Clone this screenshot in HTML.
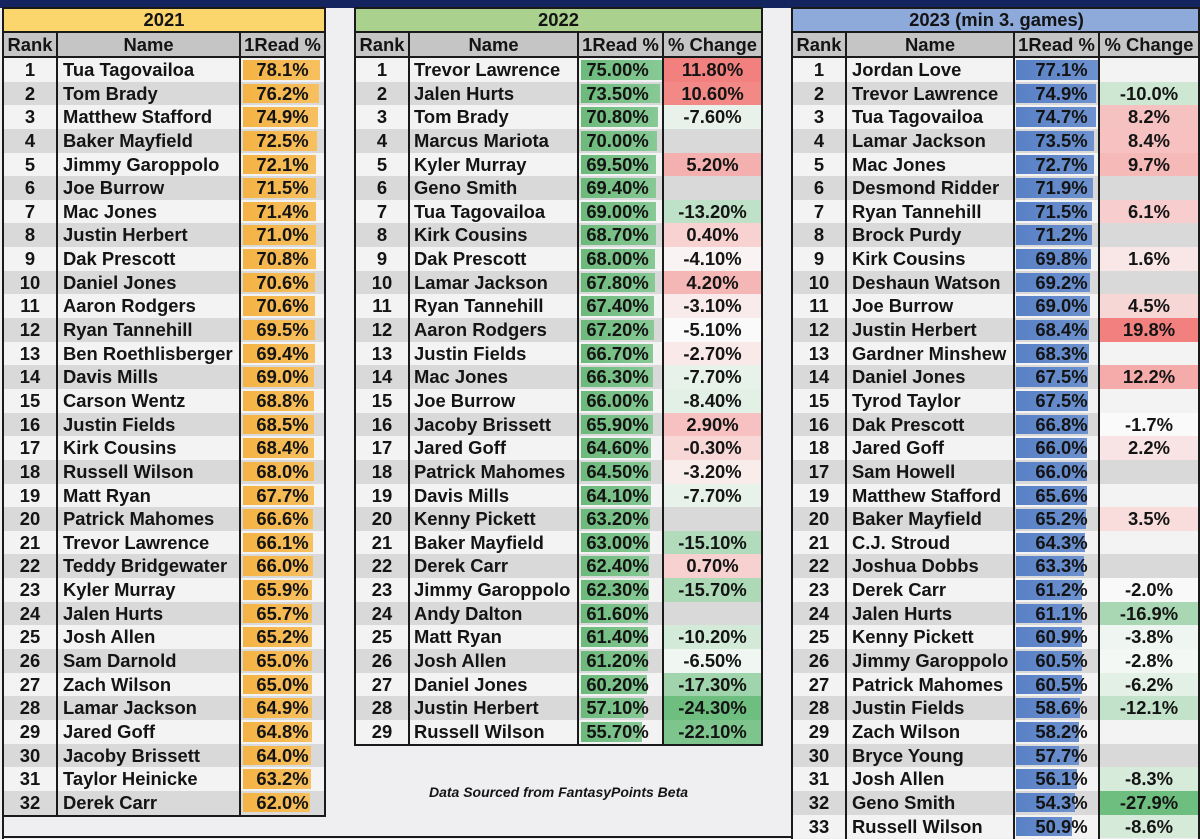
<!DOCTYPE html>
<html><head><meta charset="utf-8">
<style>
*{margin:0;padding:0;box-sizing:border-box}
body{width:1200px;height:839px;position:relative;overflow:hidden;background:#efeff1;font-family:"Liberation Sans",Arial,sans-serif;font-weight:bold;color:#141414}
.a{position:absolute}
.ln{position:absolute;background:#1a1a1a}
.t{position:absolute;top:58px}
.r{position:relative;height:23.65px;line-height:23.65px;font-size:18.4px;white-space:nowrap}
.r>i{position:absolute;top:0;font-style:normal}
.w{background:#f3f3f3}.g{background:#d9d9d9}
.k{left:0;width:52px;text-align:center}
.r>i.b{top:2px;height:19.6px}
.v,.c{text-align:center;height:23.65px}
#t1{left:4px;width:320px}
#t1 .n{left:59px}
#t1 .b{left:239px;background:linear-gradient(90deg,#f4b345,#f7c060)}
#t1 .v{left:237px;width:83px}
#t2{left:356px;width:405px}
#t2 .n{left:58px}
#t2 .b{left:225px;background:linear-gradient(90deg,#6cb97b,#88c996)}
#t2 .v{left:223px;width:77px}
#t2 .c{left:308px;width:97px}
#t3{left:793px;width:405px}
#t3 .n{left:59px}
#t3 .b{left:223px;background:linear-gradient(90deg,#5880c5,#6e92cf)}
#t3 .v{left:232px;width:73px}
#t3 .c{left:307px;width:98px}
.ti{position:absolute;top:9px;height:22px;line-height:22px;font-size:18.4px;text-align:center}
.hd{position:absolute;top:33px;height:23px;line-height:23px;font-size:18.4px;background:#c5c5c5}
.hd>i{position:absolute;top:0;font-style:normal;text-align:center}
</style></head><body>

<div class="a" style="left:0;top:0;width:1200px;height:8px;background:#14245f"></div>

<!-- titles -->
<div class="ti" style="left:4px;width:320px;background:#fad66c">2021</div>
<div class="ti" style="left:356px;width:405px;background:#abd18f">2022</div>
<div class="ti" style="left:793px;width:407px;background:#8eaadb">2023 (min 3. games)</div>

<!-- headers -->
<div class="hd" style="left:4px;width:320px"><i style="left:0;width:52px">Rank</i><i style="left:54px;width:181px">Name</i><i style="left:237px;width:83px">1Read %</i></div>
<div class="hd" style="left:356px;width:405px"><i style="left:0;width:52px">Rank</i><i style="left:54px;width:167px">Name</i><i style="left:223px;width:83px">1Read %</i><i style="left:308px;width:97px">% Change</i></div>
<div class="hd" style="left:793px;width:407px"><i style="left:0;width:52px">Rank</i><i style="left:54px;width:166px">Name</i><i style="left:222px;width:83px">1Read %</i><i style="left:307px;width:98px">% Change</i></div>

<!-- 2021 -->
<div class="t" id="t1">
<div class="r w"><i class="k">1</i><i class="n">Tua Tagovailoa</i><i class="b" style="width:77px"></i><i class="v">78.1%</i></div>
<div class="r g"><i class="k">2</i><i class="n">Tom Brady</i><i class="b" style="width:75.8px"></i><i class="v">76.2%</i></div>
<div class="r w"><i class="k">3</i><i class="n">Matthew Stafford</i><i class="b" style="width:75px"></i><i class="v">74.9%</i></div>
<div class="r g"><i class="k">4</i><i class="n">Baker Mayfield</i><i class="b" style="width:73.5px"></i><i class="v">72.5%</i></div>
<div class="r w"><i class="k">5</i><i class="n">Jimmy Garoppolo</i><i class="b" style="width:73.3px"></i><i class="v">72.1%</i></div>
<div class="r g"><i class="k">6</i><i class="n">Joe Burrow</i><i class="b" style="width:72.9px"></i><i class="v">71.5%</i></div>
<div class="r w"><i class="k">7</i><i class="n">Mac Jones</i><i class="b" style="width:72.8px"></i><i class="v">71.4%</i></div>
<div class="r g"><i class="k">8</i><i class="n">Justin Herbert</i><i class="b" style="width:72.6px"></i><i class="v">71.0%</i></div>
<div class="r w"><i class="k">9</i><i class="n">Dak Prescott</i><i class="b" style="width:72.5px"></i><i class="v">70.8%</i></div>
<div class="r g"><i class="k">10</i><i class="n">Daniel Jones</i><i class="b" style="width:72.3px"></i><i class="v">70.6%</i></div>
<div class="r w"><i class="k">11</i><i class="n">Aaron Rodgers</i><i class="b" style="width:72.3px"></i><i class="v">70.6%</i></div>
<div class="r g"><i class="k">12</i><i class="n">Ryan Tannehill</i><i class="b" style="width:71.7px"></i><i class="v">69.5%</i></div>
<div class="r w"><i class="k">13</i><i class="n">Ben Roethlisberger</i><i class="b" style="width:71.6px"></i><i class="v">69.4%</i></div>
<div class="r g"><i class="k">14</i><i class="n">Davis Mills</i><i class="b" style="width:71.3px"></i><i class="v">69.0%</i></div>
<div class="r w"><i class="k">15</i><i class="n">Carson Wentz</i><i class="b" style="width:71.2px"></i><i class="v">68.8%</i></div>
<div class="r g"><i class="k">16</i><i class="n">Justin Fields</i><i class="b" style="width:71px"></i><i class="v">68.5%</i></div>
<div class="r w"><i class="k">17</i><i class="n">Kirk Cousins</i><i class="b" style="width:71px"></i><i class="v">68.4%</i></div>
<div class="r g"><i class="k">18</i><i class="n">Russell Wilson</i><i class="b" style="width:70.7px"></i><i class="v">68.0%</i></div>
<div class="r w"><i class="k">19</i><i class="n">Matt Ryan</i><i class="b" style="width:70.5px"></i><i class="v">67.7%</i></div>
<div class="r g"><i class="k">20</i><i class="n">Patrick Mahomes</i><i class="b" style="width:69.9px"></i><i class="v">66.6%</i></div>
<div class="r w"><i class="k">21</i><i class="n">Trevor Lawrence</i><i class="b" style="width:69.5px"></i><i class="v">66.1%</i></div>
<div class="r g"><i class="k">22</i><i class="n">Teddy Bridgewater</i><i class="b" style="width:69.5px"></i><i class="v">66.0%</i></div>
<div class="r w"><i class="k">23</i><i class="n">Kyler Murray</i><i class="b" style="width:69.4px"></i><i class="v">65.9%</i></div>
<div class="r g"><i class="k">24</i><i class="n">Jalen Hurts</i><i class="b" style="width:69.3px"></i><i class="v">65.7%</i></div>
<div class="r w"><i class="k">25</i><i class="n">Josh Allen</i><i class="b" style="width:69px"></i><i class="v">65.2%</i></div>
<div class="r g"><i class="k">26</i><i class="n">Sam Darnold</i><i class="b" style="width:68.9px"></i><i class="v">65.0%</i></div>
<div class="r w"><i class="k">27</i><i class="n">Zach Wilson</i><i class="b" style="width:68.9px"></i><i class="v">65.0%</i></div>
<div class="r g"><i class="k">28</i><i class="n">Lamar Jackson</i><i class="b" style="width:68.8px"></i><i class="v">64.9%</i></div>
<div class="r w"><i class="k">29</i><i class="n">Jared Goff</i><i class="b" style="width:68.7px"></i><i class="v">64.8%</i></div>
<div class="r g"><i class="k">30</i><i class="n">Jacoby Brissett</i><i class="b" style="width:68.2px"></i><i class="v">64.0%</i></div>
<div class="r w"><i class="k">31</i><i class="n">Taylor Heinicke</i><i class="b" style="width:67.7px"></i><i class="v">63.2%</i></div>
<div class="r g"><i class="k">32</i><i class="n">Derek Carr</i><i class="b" style="width:67px"></i><i class="v">62.0%</i></div>
</div>

<!-- 2022 -->
<div class="t" id="t2">
<div class="r w"><i class="k">1</i><i class="n">Trevor Lawrence</i><i class="c" style="background:#f1807e">11.80%</i><i class="b" style="width:81px"></i><i class="v">75.00%</i></div>
<div class="r g"><i class="k">2</i><i class="n">Jalen Hurts</i><i class="c" style="background:#f28987">10.60%</i><i class="b" style="width:79.4px"></i><i class="v">73.50%</i></div>
<div class="r w"><i class="k">3</i><i class="n">Tom Brady</i><i class="c" style="background:#e8f2ea">-7.60%</i><i class="b" style="width:76.6px"></i><i class="v">70.80%</i></div>
<div class="r g"><i class="k">4</i><i class="n">Marcus Mariota</i><i class="b" style="width:75.8px"></i><i class="v">70.00%</i></div>
<div class="r w"><i class="k">5</i><i class="n">Kyler Murray</i><i class="c" style="background:#f4b0ae">5.20%</i><i class="b" style="width:75.3px"></i><i class="v">69.50%</i></div>
<div class="r g"><i class="k">6</i><i class="n">Geno Smith</i><i class="b" style="width:75.2px"></i><i class="v">69.40%</i></div>
<div class="r w"><i class="k">7</i><i class="n">Tua Tagovailoa</i><i class="c" style="background:#bfe1c7">-13.20%</i><i class="b" style="width:74.8px"></i><i class="v">69.00%</i></div>
<div class="r g"><i class="k">8</i><i class="n">Kirk Cousins</i><i class="c" style="background:#f7d2d1">0.40%</i><i class="b" style="width:74.5px"></i><i class="v">68.70%</i></div>
<div class="r w"><i class="k">9</i><i class="n">Dak Prescott</i><i class="c" style="background:#f9f3f3">-4.10%</i><i class="b" style="width:73.7px"></i><i class="v">68.00%</i></div>
<div class="r g"><i class="k">10</i><i class="n">Lamar Jackson</i><i class="c" style="background:#f5b7b6">4.20%</i><i class="b" style="width:73.5px"></i><i class="v">67.80%</i></div>
<div class="r w"><i class="k">11</i><i class="n">Ryan Tannehill</i><i class="c" style="background:#f9ebeb">-3.10%</i><i class="b" style="width:73.1px"></i><i class="v">67.40%</i></div>
<div class="r g"><i class="k">12</i><i class="n">Aaron Rodgers</i><i class="c" style="background:#fafafa">-5.10%</i><i class="b" style="width:72.9px"></i><i class="v">67.20%</i></div>
<div class="r w"><i class="k">13</i><i class="n">Justin Fields</i><i class="c" style="background:#f9e9e9">-2.70%</i><i class="b" style="width:72.4px"></i><i class="v">66.70%</i></div>
<div class="r g"><i class="k">14</i><i class="n">Mac Jones</i><i class="c" style="background:#e7f2ea">-7.70%</i><i class="b" style="width:72px"></i><i class="v">66.30%</i></div>
<div class="r w"><i class="k">15</i><i class="n">Joe Burrow</i><i class="c" style="background:#e2f0e5">-8.40%</i><i class="b" style="width:71.7px"></i><i class="v">66.00%</i></div>
<div class="r g"><i class="k">16</i><i class="n">Jacoby Brissett</i><i class="c" style="background:#f6c1c0">2.90%</i><i class="b" style="width:71.6px"></i><i class="v">65.90%</i></div>
<div class="r w"><i class="k">17</i><i class="n">Jared Goff</i><i class="c" style="background:#f7d8d7">-0.30%</i><i class="b" style="width:70.2px"></i><i class="v">64.60%</i></div>
<div class="r g"><i class="k">18</i><i class="n">Patrick Mahomes</i><i class="c" style="background:#f9edec">-3.20%</i><i class="b" style="width:70.1px"></i><i class="v">64.50%</i></div>
<div class="r w"><i class="k">19</i><i class="n">Davis Mills</i><i class="c" style="background:#e7f2ea">-7.70%</i><i class="b" style="width:69.7px"></i><i class="v">64.10%</i></div>
<div class="r g"><i class="k">20</i><i class="n">Kenny Pickett</i><i class="b" style="width:68.8px"></i><i class="v">63.20%</i></div>
<div class="r w"><i class="k">21</i><i class="n">Baker Mayfield</i><i class="c" style="background:#b1dbbb">-15.10%</i><i class="b" style="width:68.6px"></i><i class="v">63.00%</i></div>
<div class="r g"><i class="k">22</i><i class="n">Derek Carr</i><i class="c" style="background:#f7d1d0">0.70%</i><i class="b" style="width:67.9px"></i><i class="v">62.40%</i></div>
<div class="r w"><i class="k">23</i><i class="n">Jimmy Garoppolo</i><i class="c" style="background:#add9b7">-15.70%</i><i class="b" style="width:67.8px"></i><i class="v">62.30%</i></div>
<div class="r g"><i class="k">24</i><i class="n">Andy Dalton</i><i class="b" style="width:67.1px"></i><i class="v">61.60%</i></div>
<div class="r w"><i class="k">25</i><i class="n">Matt Ryan</i><i class="c" style="background:#d4ead9">-10.20%</i><i class="b" style="width:66.9px"></i><i class="v">61.40%</i></div>
<div class="r g"><i class="k">26</i><i class="n">Josh Allen</i><i class="c" style="background:#f0f6f1">-6.50%</i><i class="b" style="width:66.7px"></i><i class="v">61.20%</i></div>
<div class="r w"><i class="k">27</i><i class="n">Daniel Jones</i><i class="c" style="background:#a0d4ac">-17.30%</i><i class="b" style="width:65.7px"></i><i class="v">60.20%</i></div>
<div class="r g"><i class="k">28</i><i class="n">Justin Herbert</i><i class="c" style="background:#6ebe80">-24.30%</i><i class="b" style="width:62.5px"></i><i class="v">57.10%</i></div>
<div class="r w"><i class="k">29</i><i class="n">Russell Wilson</i><i class="c" style="background:#7dc58d">-22.10%</i><i class="b" style="width:61px"></i><i class="v">55.70%</i></div>
</div>

<!-- 2023 -->
<div class="t" id="t3">
<div class="r w"><i class="k">1</i><i class="n">Jordan Love</i><i class="b" style="width:81.9px"></i><i class="v">77.1%</i></div>
<div class="r g"><i class="k">2</i><i class="n">Trevor Lawrence</i><i class="c" style="background:#cde7d3">-10.0%</i><i class="b" style="width:79.8px"></i><i class="v">74.9%</i></div>
<div class="r w"><i class="k">3</i><i class="n">Tua Tagovailoa</i><i class="c" style="background:#f6c2c1">8.2%</i><i class="b" style="width:79.6px"></i><i class="v">74.7%</i></div>
<div class="r g"><i class="k">4</i><i class="n">Lamar Jackson</i><i class="c" style="background:#f6c1c0">8.4%</i><i class="b" style="width:78.4px"></i><i class="v">73.5%</i></div>
<div class="r w"><i class="k">5</i><i class="n">Mac Jones</i><i class="c" style="background:#f5b9b8">9.7%</i><i class="b" style="width:77.6px"></i><i class="v">72.7%</i></div>
<div class="r g"><i class="k">6</i><i class="n">Desmond Ridder</i><i class="b" style="width:76.8px"></i><i class="v">71.9%</i></div>
<div class="r w"><i class="k">7</i><i class="n">Ryan Tannehill</i><i class="c" style="background:#f7cecd">6.1%</i><i class="b" style="width:76.4px"></i><i class="v">71.5%</i></div>
<div class="r g"><i class="k">8</i><i class="n">Brock Purdy</i><i class="b" style="width:76.1px"></i><i class="v">71.2%</i></div>
<div class="r w"><i class="k">9</i><i class="n">Kirk Cousins</i><i class="c" style="background:#f9e7e7">1.6%</i><i class="b" style="width:74.7px"></i><i class="v">69.8%</i></div>
<div class="r g"><i class="k">10</i><i class="n">Deshaun Watson</i><i class="b" style="width:74.1px"></i><i class="v">69.2%</i></div>
<div class="r w"><i class="k">11</i><i class="n">Joe Burrow</i><i class="c" style="background:#f7d7d6">4.5%</i><i class="b" style="width:73.9px"></i><i class="v">69.0%</i></div>
<div class="r g"><i class="k">12</i><i class="n">Justin Herbert</i><i class="c" style="background:#f1807e">19.8%</i><i class="b" style="width:73.3px"></i><i class="v">68.4%</i></div>
<div class="r w"><i class="k">13</i><i class="n">Gardner Minshew</i><i class="b" style="width:73.2px"></i><i class="v">68.3%</i></div>
<div class="r g"><i class="k">14</i><i class="n">Daniel Jones</i><i class="c" style="background:#f4aba9">12.2%</i><i class="b" style="width:72.4px"></i><i class="v">67.5%</i></div>
<div class="r w"><i class="k">15</i><i class="n">Tyrod Taylor</i><i class="b" style="width:72.4px"></i><i class="v">67.5%</i></div>
<div class="r g"><i class="k">16</i><i class="n">Dak Prescott</i><i class="c" style="background:#fafafa">-1.7%</i><i class="b" style="width:71.7px"></i><i class="v">66.8%</i></div>
<div class="r w"><i class="k">18</i><i class="n">Jared Goff</i><i class="c" style="background:#f8e4e4">2.2%</i><i class="b" style="width:70.9px"></i><i class="v">66.0%</i></div>
<div class="r g"><i class="k">17</i><i class="n">Sam Howell</i><i class="b" style="width:70.9px"></i><i class="v">66.0%</i></div>
<div class="r w"><i class="k">19</i><i class="n">Matthew Stafford</i><i class="b" style="width:70.6px"></i><i class="v">65.6%</i></div>
<div class="r g"><i class="k">20</i><i class="n">Baker Mayfield</i><i class="c" style="background:#f8dddc">3.5%</i><i class="b" style="width:70.2px"></i><i class="v">65.2%</i></div>
<div class="r w"><i class="k">21</i><i class="n">C.J. Stroud</i><i class="b" style="width:69.3px"></i><i class="v">64.3%</i></div>
<div class="r g"><i class="k">22</i><i class="n">Joshua Dobbs</i><i class="b" style="width:68.3px"></i><i class="v">63.3%</i></div>
<div class="r w"><i class="k">23</i><i class="n">Derek Carr</i><i class="c" style="background:#f8f9f8">-2.0%</i><i class="b" style="width:66.2px"></i><i class="v">61.2%</i></div>
<div class="r g"><i class="k">24</i><i class="n">Jalen Hurts</i><i class="c" style="background:#a9d7b3">-16.9%</i><i class="b" style="width:66.1px"></i><i class="v">61.1%</i></div>
<div class="r w"><i class="k">25</i><i class="n">Kenny Pickett</i><i class="c" style="background:#eff5f0">-3.8%</i><i class="b" style="width:65.9px"></i><i class="v">60.9%</i></div>
<div class="r g"><i class="k">26</i><i class="n">Jimmy Garoppolo</i><i class="c" style="background:#f4f8f5">-2.8%</i><i class="b" style="width:65.5px"></i><i class="v">60.5%</i></div>
<div class="r w"><i class="k">27</i><i class="n">Patrick Mahomes</i><i class="c" style="background:#e2f0e5">-6.2%</i><i class="b" style="width:65.5px"></i><i class="v">60.5%</i></div>
<div class="r g"><i class="k">28</i><i class="n">Justin Fields</i><i class="c" style="background:#c2e2c9">-12.1%</i><i class="b" style="width:63.6px"></i><i class="v">58.6%</i></div>
<div class="r w"><i class="k">29</i><i class="n">Zach Wilson</i><i class="b" style="width:63.2px"></i><i class="v">58.2%</i></div>
<div class="r g"><i class="k">30</i><i class="n">Bryce Young</i><i class="b" style="width:62.7px"></i><i class="v">57.7%</i></div>
<div class="r w"><i class="k">31</i><i class="n">Josh Allen</i><i class="c" style="background:#d7ebdb">-8.3%</i><i class="b" style="width:61.1px"></i><i class="v">56.1%</i></div>
<div class="r g"><i class="k">32</i><i class="n">Geno Smith</i><i class="c" style="background:#6ebe80">-27.9%</i><i class="b" style="width:59.4px"></i><i class="v">54.3%</i></div>
<div class="r w"><i class="k">33</i><i class="n">Russell Wilson</i><i class="c" style="background:#d6eada">-8.6%</i><i class="b" style="width:56px"></i><i class="v">50.9%</i></div>
</div>

<!-- footer note -->
<div class="a" style="left:358px;top:784px;width:401px;height:16px;line-height:16px;font-size:14px;font-style:italic;text-align:center">Data Sourced from FantasyPoints Beta</div>

<!-- lines: 2021 -->
<div class="ln" style="left:2px;top:7px;width:324px;height:2px"></div>
<div class="ln" style="left:2px;top:31px;width:324px;height:2px"></div>
<div class="ln" style="left:2px;top:56px;width:324px;height:2px"></div>
<div class="ln" style="left:2px;top:814.8px;width:324px;height:2px"></div>
<div class="ln" style="left:2px;top:7px;width:2px;height:832px"></div>
<div class="ln" style="left:56px;top:31px;width:2px;height:785px"></div>
<div class="ln" style="left:239px;top:31px;width:2px;height:785px"></div>
<div class="ln" style="left:324px;top:7px;width:2px;height:809px"></div>
<!-- lines: 2022 -->
<div class="ln" style="left:354px;top:7px;width:409px;height:2px"></div>
<div class="ln" style="left:354px;top:31px;width:409px;height:2px"></div>
<div class="ln" style="left:354px;top:56px;width:409px;height:2px"></div>
<div class="ln" style="left:354px;top:743.85px;width:409px;height:2px"></div>
<div class="ln" style="left:354px;top:7px;width:2px;height:739px"></div>
<div class="ln" style="left:408px;top:31px;width:2px;height:715px"></div>
<div class="ln" style="left:577px;top:31px;width:2px;height:715px"></div>
<div class="ln" style="left:662px;top:31px;width:2px;height:715px"></div>
<div class="ln" style="left:761px;top:7px;width:2px;height:739px"></div>
<!-- lines: 2023 -->
<div class="ln" style="left:791px;top:7px;width:409px;height:2px"></div>
<div class="ln" style="left:791px;top:31px;width:409px;height:2px"></div>
<div class="ln" style="left:791px;top:56px;width:409px;height:2px"></div>
<div class="ln" style="left:791px;top:7px;width:2px;height:832px"></div>
<div class="ln" style="left:845px;top:31px;width:2px;height:808px"></div>
<div class="ln" style="left:1013px;top:31px;width:2px;height:808px"></div>
<div class="ln" style="left:1098px;top:31px;width:2px;height:808px"></div>
<div class="ln" style="left:1198px;top:7px;width:2px;height:832px"></div>
<!-- frame bottom -->
<div class="ln" style="left:2px;top:836px;width:791px;height:2px"></div>

</body></html>
